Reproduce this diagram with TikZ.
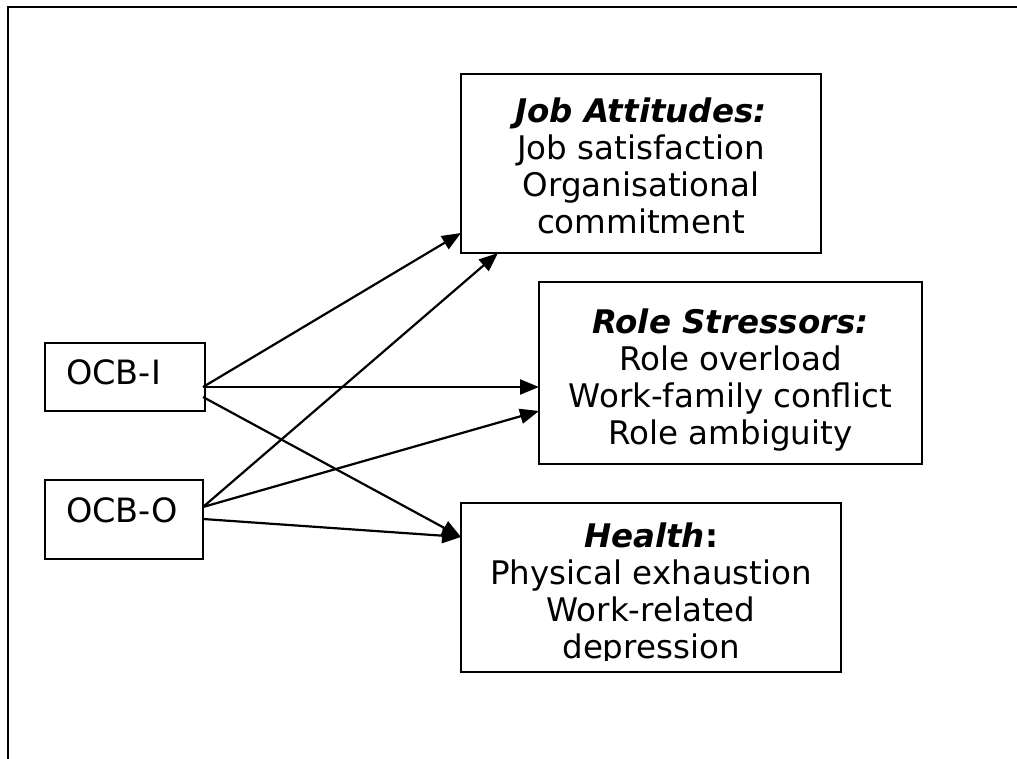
\documentclass[tikz,border=0pt]{standalone}
\usepackage{fontspec}
\setmainfont{DejaVu Sans}
\usetikzlibrary{arrows.meta}

\tikzset{
  frameline/.style={line width=2.8pt, line cap=rect},
  box/.style={draw, line width=2.3pt, inner sep=0pt, outer sep=0pt, rectangle},
  boxtext/.style={align=center, inner sep=0pt, anchor=base,
    font=\fontsize{32.5}{37}\selectfont},
  ocbtext/.style={inner sep=0pt, anchor=base west,
    font=\fontsize{33.5}{37}\selectfont},
  link/.style={line width=2.2pt, -{Triangle[length=19pt,width=15pt]}}
}

\begin{document}
\begin{tikzpicture}[x=1pt,y=1pt]
  \useasboundingbox (0,0) rectangle (1017,758);

  % page frame: top and left edges only
  \draw[frameline] (1017,751) -- (8,751) -- (8,0);

  % outcome boxes
  \node[box, minimum width=360pt, minimum height=179pt] (ja) at (641,594.5) {};
  \node[box, minimum width=383pt, minimum height=182pt] (rs) at (730.5,385) {};
  \node[box, minimum width=380pt, minimum height=169pt] (hl) at (651,170.5) {};

  % predictor boxes
  \node[box, minimum width=160pt, minimum height=68pt] (ocbi) at (125,381) {};
  \node[box, minimum width=158pt, minimum height=79pt] (ocbo) at (124,238.5) {};

  % box contents (base anchor sits on the last line)
  \node[boxtext] (jatext) at (641,524.5)
    {\textbf{\textit{Job Attitudes:}}\\Job satisfaction\\Organisational\\commitment};
  \node[boxtext] (rstext) at (730.5,313.5)
    {\textbf{\textit{Role Stressors:}}\\Role overload\\Work-family conflict\\Role ambiguity};
  \begin{scope}
    \clip (461,98) rectangle (841,255);
    \node[boxtext] (hltext) at (651,100)
      {\textbf{\textit{Health}:}\\Physical exhaustion\\Work-related\\depression};
  \end{scope}
  \node[ocbtext] (ocbitext) at (66,373) {OCB-I};
  \node[ocbtext] (ocbotext) at (66,235) {OCB-O};

  % paths from the predictors to the outcomes
  \draw[link] ([xshift=-2pt,yshift=-10pt]ocbi.east) -- ([yshift=-69.5pt]ja.west);
  \draw[link] ([xshift=-2pt,yshift=-10pt]ocbi.east) -- ([yshift=-14pt]rs.west);
  \draw[link] ([xshift=-2pt,yshift=-20pt]ocbi.east) -- ([yshift=50.5pt]hl.west);
  \draw[link] ([yshift=12.5pt]ocbo.east) -- ([xshift=-143pt]ja.south);
  \draw[link] ([yshift=12.5pt]ocbo.east) -- ([yshift=-38pt]rs.west);
  \draw[link] ([yshift=0.5pt]ocbo.east) -- ([yshift=50.5pt]hl.west);
\end{tikzpicture}
\end{document}
